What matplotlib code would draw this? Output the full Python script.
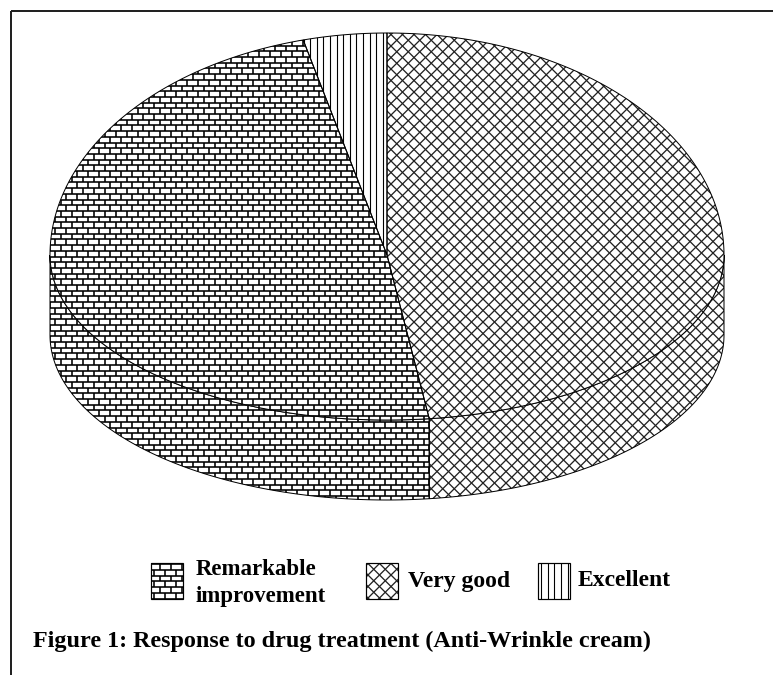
import numpy as np
import matplotlib.pyplot as plt
from matplotlib.patches import Polygon
from matplotlib.collections import LineCollection


labels = ['Remarkable\nimprovement', 'Very good', 'Excellent']
shares = [48, 48, 4]
patterns = ['brick', 'cross', 'vline']
# slices go clockwise from 12 o'clock in this order
pie_order = [1, 0, 2]
title = 'Figure 1: Response to drug treatment (Anti-Wrinkle cream)'

# pie geometry in pixels (y goes down)
cx, cy = 387, 255
rx, ry_far, ry_near = 337, 222, 165
depth = 80

PX = 0.72  # one pixel in points at dpi 100


def rim(t):
    t = np.asarray(t, dtype=float)
    ry = np.where(np.cos(t) > 0, ry_far, ry_near)
    return np.column_stack([cx + rx * np.sin(t), cy - ry * np.cos(t)])


def fill_pattern(ax, patch, kind):
    verts = patch.get_xy()
    x0, y0 = verts.min(axis=0) - 2
    x1, y1 = verts.max(axis=0) + 2
    segs = []
    if kind == 'brick':
        h, w = 5.7, 11.0
        i0 = int(np.floor(y0 / h))
        i1 = int(np.ceil(y1 / h))
        for i in range(i0, i1 + 1):
            y = i * h
            segs.append([(x0, y), (x1, y)])
            off = 0 if i % 2 == 0 else w / 2
            j0 = int(np.floor((x0 - off) / w))
            j1 = int(np.ceil((x1 - off) / w))
            for j in range(j0, j1 + 1):
                x = j * w + off
                segs.append([(x, y), (x, y + h)])
        lw, col = 1.6 * PX, 'black'
    elif kind == 'cross':
        s = 11.5
        for c in np.arange(np.floor((x0 - y1) / s) * s, x1 - y0 + s, s):
            segs.append([(c + y0, y0), (c + y1, y1)])
        for c in np.arange(np.floor((x0 + y0) / s) * s, x1 + y1 + s, s):
            segs.append([(c - y0, y0), (c - y1, y1)])
        lw, col = 1.3 * PX, '#222222'
    else:
        s = 6.6
        for x in np.arange(np.floor(x0 / s) * s, x1 + s, s):
            segs.append([(x, y0), (x, y1)])
        lw, col = 1.1 * PX, 'black'
    lc = LineCollection(segs, colors=col, linewidths=lw, zorder=patch.get_zorder() + 0.1)
    ax.add_collection(lc)
    lc.set_clip_path(patch)


def add_region(ax, verts, kind, z, edge_lw=1.0):
    face = Polygon(verts, closed=True, facecolor='white', edgecolor='none', zorder=z)
    ax.add_patch(face)
    fill_pattern(ax, face, kind)
    ax.add_patch(Polygon(verts, closed=True, fill=False, edgecolor='black',
                         linewidth=edge_lw * PX, zorder=z + 0.2))


fig = plt.figure(figsize=(7.73, 6.75), dpi=100)
ax = fig.add_axes([0, 0, 1, 1])
ax.set_xlim(0, 773)
ax.set_ylim(675, 0)
ax.axis('off')

# frame (only top and left edges are visible)
ax.plot([11, 773], [11, 11], color='#222222', lw=2 * PX, solid_capstyle='butt')
ax.plot([11, 11], [11, 675], color='#222222', lw=2 * PX, solid_capstyle='butt')

total = float(sum(shares))
start = 0.0
for idx in pie_order:
    t1 = start
    t2 = start + 2 * np.pi * shares[idx] / total
    start = t2
    # side wall of the front half
    lo, hi = max(t1, np.pi / 2), min(t2, 3 * np.pi / 2)
    if lo < hi:
        top = rim(np.linspace(lo, hi, 120))
        bot = top[::-1] + [0, depth]
        add_region(ax, np.vstack([top, bot]), patterns[idx], 2)
    # top face
    arc = rim(np.linspace(t1, t2, 240))
    add_region(ax, np.vstack([[cx, cy], arc]), patterns[idx], 3)

# legend
sw_x = [151, 366, 538]
txt_x = [196, 408, 578]
sw_y, sw_w, sw_h = 563, 32, 36
for i in range(len(labels)):
    corners = [(sw_x[i], sw_y), (sw_x[i] + sw_w, sw_y),
               (sw_x[i] + sw_w, sw_y + sw_h), (sw_x[i], sw_y + sw_h)]
    add_region(ax, corners, patterns[i], 3, edge_lw=1.2)

font = dict(family='Liberation Serif', weight='bold')
lines = labels[0].split('\n')
ax.text(txt_x[0], 575, lines[0], fontsize=16.5, va='baseline', **font)
ax.text(txt_x[0], 602, lines[1], fontsize=16.5, va='baseline', **font)
ax.text(txt_x[1], 587, labels[1], fontsize=17, va='baseline', **font)
ax.text(txt_x[2], 586, labels[2], fontsize=17, va='baseline', **font)

ax.text(33, 647, title, fontsize=17.4, va='baseline', **font)

fig.savefig('out.png', dpi=100)
